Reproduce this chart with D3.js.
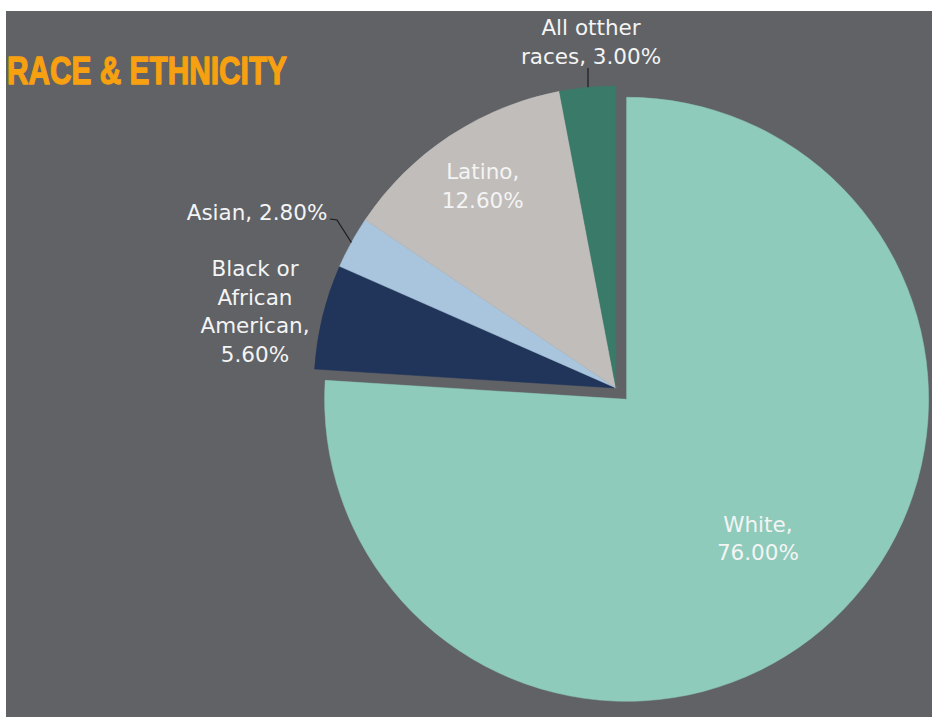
<!DOCTYPE html>
<html>
<head>
<meta charset="utf-8">
<script src="https://cdn.jsdelivr.net/npm/d3@7"></script>
<style>
  html, body { margin: 0; padding: 0; background: #ffffff; }
  svg { display: block; }
</style>
</head>
<body>
<div id="chart"></div>
<script>
// Race & ethnicity breakdown, in percent
const categories = ["White", "Black or African American", "Asian", "Latino", "All otther races"];
const values = [76.0, 5.6, 2.8, 12.6, 3.0];
const colors = ["#8ecbbb", "#21355a", "#a9c5dd", "#c1bdbb", "#3a7a68"];
// Label lines (category part); the percentage is formatted from values
const labelNames = [["White,"], ["Black or", "African", "American,"], ["Asian,"], ["Latino,"], ["All otther", "races,"]];

const W = 932, H = 717;
const svg = d3.select("#chart").append("svg").attr("width", W).attr("height", H);

// slide background
svg.append("rect").attr("x", 0).attr("y", 0).attr("width", W).attr("height", H).attr("fill", "#ffffff");
svg.append("rect").attr("x", 6).attr("y", 11).attr("width", W - 6).attr("height", H - 11).attr("fill", "#606266");

// title
svg.append("text")
  .attr("x", 7).attr("y", 84)
  .attr("textLength", 280).attr("lengthAdjust", "spacingAndGlyphs")
  .style("font-family", "'Liberation Sans Narrow', 'Liberation Sans', 'DejaVu Sans', sans-serif")
  .style("font-weight", "900").style("font-size", "39px")
  .attr("fill", "#f7a010")
  .attr("stroke", "#f7a010").attr("stroke-width", 1.4).attr("stroke-linejoin", "round")
  .text("RACE & ETHNICITY");

const cx = 616, cy = 388, R = 302;
const explode = [15.5, 0, 0, 0, 0];

const pie = d3.pie().sort(null).startAngle(0).endAngle(2 * Math.PI)(values);
const arc = d3.arc().innerRadius(0).outerRadius(R);

const g = svg.append("g").attr("transform", `translate(${cx},${cy})`);

function offsetOf(d, dist) {
  const a = (d.startAngle + d.endAngle) / 2;
  return [Math.sin(a) * dist, -Math.cos(a) * dist];
}

g.selectAll("path.slice").data(pie).join("path")
  .attr("class", "slice")
  .attr("d", arc)
  .attr("fill", (d, i) => colors[i])
  .attr("stroke", (d, i) => colors[i]).attr("stroke-width", 0.5)
  .attr("transform", (d, i) => {
    const [ox, oy] = offsetOf(d, explode[i]);
    return `translate(${ox},${oy})`;
  });

const fmt = v => d3.format(".2f")(v) + "%";
const lineH = 28.5;

// label placement: inner labels sit along the slice bisector, outer ones beside the pie
// joinPct: the percentage shares the last name line
const labelLayout = [
  { inside: true, rf: 0.635 },
  { inside: false, x: 255 - cx, y: 276 - cy },
  { inside: false, x: 257 - cx, y: 220 - cy, joinPct: true },
  { inside: true, rf: 0.80 },
  { inside: false, x: 591 - cx, y: 35 - cy, joinPct: true }
];

pie.forEach((d, i) => {
  const L = labelLayout[i];
  const lines = labelNames[i].slice();
  if (L.joinPct) lines[lines.length - 1] += " " + fmt(values[i]);
  else lines.push(fmt(values[i]));
  let x, y0;
  if (L.inside) {
    const [ox, oy] = offsetOf(d, explode[i]);
    const [px, py] = offsetOf(d, R * L.rf);
    x = ox + px;
    const midY = oy + py;
    y0 = midY - (lines.length - 1) * lineH / 2 + 7;
  } else {
    x = L.x; y0 = L.y;
  }
  const t = g.append("text")
    .attr("text-anchor", "middle")
    .style("font-family", "'DejaVu Sans', sans-serif")
    .style("font-size", "21.5px")
    .attr("fill", "#f4f4f4");
  lines.forEach((s, k) => {
    t.append("tspan").attr("x", x).attr("y", y0 + k * lineH).text(s);
  });
});

// leader lines for the small outer slices
const asian = pie[2], other = pie[4];
const aMid = (asian.startAngle + asian.endAngle) / 2;
const aEdge = [Math.sin(aMid) * R, -Math.cos(aMid) * R];
g.append("path")
  .attr("d", d3.line()([[330 - cx, 219 - cy], [337 - cx, 220 - cy], aEdge]))
  .attr("fill", "none").attr("stroke", "#1b1b1b").attr("stroke-width", 1.2);

const oMid = (other.startAngle + other.endAngle) / 2;
const oEdge = [Math.sin(oMid) * R, -Math.cos(oMid) * R];
g.append("path")
  .attr("d", d3.line()([[588 - cx, 68 - cy], [588 - cx, oEdge[1]]]))
  .attr("fill", "none").attr("stroke", "#1b1b1b").attr("stroke-width", 1.2);
</script>
</body>
</html>
